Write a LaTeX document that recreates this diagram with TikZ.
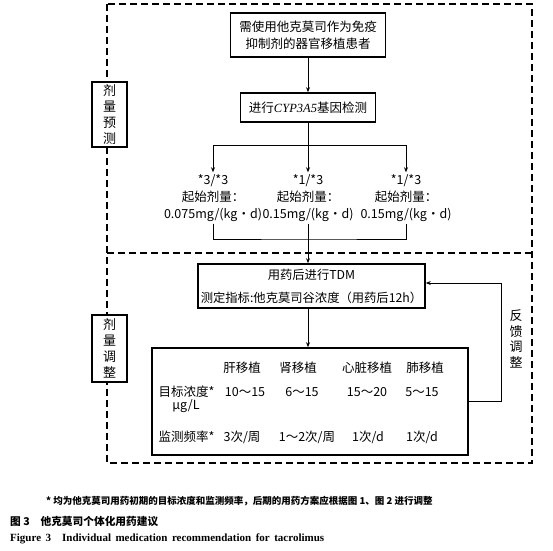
\documentclass[tikz,border=0pt]{standalone}
\usepackage{fontspec}
\setmainfont{Liberation Serif}
\newfontfamily\cjk{Noto Sans CJK SC}
\usetikzlibrary{arrows.meta,positioning}

\begin{document}
\begin{tikzpicture}[
  x=1pt, y=-1pt,
  font=\cjk\fontsize{12.5}{17}\selectfont,
  box/.style={
    draw,
    line width=1.6pt,
    align=center,
    inner sep=2pt,
  },
  flow/.style={-{Stealth[length=5pt,width=4pt]}, line width=0.9pt},
  joint/.style={line width=0.9pt},
  dashframe/.style={line width=1.6pt, dash pattern=on 7pt off 4pt},
  sidetag/.style={box, fill=white, minimum width=35pt, font=\cjk\fontsize{13}{16}\selectfont},
  dosetext/.style={align=center, inner sep=2pt},
  cell/.style={inner sep=0pt, anchor=center},
  caption/.style={anchor=west, inner sep=0pt},
]
\useasboundingbox (0,0) rectangle (553,550);

% dashed frame with divider
\draw[dashframe] (107,4) rectangle (532,463);
\draw[dashframe] (107,253) -- (532,253);

\node[sidetag, minimum height=65pt] (tag_predict) at (109.5,114.5) {剂\\量\\预\\测};
\node[sidetag, minimum height=67pt] (tag_adjust) at (109.5,348.5) {剂\\量\\调\\整};
\node[align=center, inner sep=0pt, font=\cjk\fontsize{13}{15.5}\selectfont] (tag_feedback) at (516,339) {反\\馈\\调\\整};

% dose prediction
\node[box, minimum width=155pt, minimum height=44pt] (box_patient) at (308,35) {需使用他克莫司作为免疫\\抑制剂的器官移植患者};
\node[box, minimum width=135pt, minimum height=29pt] (box_gene) at (308,107.5) {进行{\rmfamily\itshape CYP3A5}基因检测};

\coordinate (split) at (308,145);
\node[dosetext] (dose_a) at (213,198) {*3/*3\\起始剂量：\\0.075mg/(kg•d)};
\node[dosetext] (dose_b) at (308,198) {*1/*3\\起始剂量：\\0.15mg/(kg•d)};
\node[dosetext] (dose_c) at (406,198) {*1/*3\\起始剂量：\\0.15mg/(kg•d)};

\draw[flow] (box_patient) -- (box_gene);
\draw[joint] (box_gene) -- (split);
\draw[flow] (split) -| (dose_a.north);
\draw[flow] (split) -- (dose_b.north);
\draw[flow] (split) -| (dose_c.north);

\coordinate (merge) at (308,239);
\draw[joint] (dose_a.south) |- (merge) -| (dose_c.south);

% dose adjustment
\node[box, minimum width=227pt, minimum height=44pt, font=\cjk\fontsize{12.3}{23}\selectfont] (box_tdm) at (311.5,286) {用药后进行TDM\\测定指标:他克莫司谷浓度（用药后12h）};
\node[box, minimum width=316pt, minimum height=107pt] (box_table) at (310,401.5) {};

\draw[flow] (dose_b.south) -- (dose_b.south |- box_tdm.north);
\draw[flow] (box_tdm.south -| merge) -- (box_table.north -| merge);

\foreach \name/\x [count=\i] in {肝移植/242, 肾移植/298, 心脏移植/367, 肺移植/425}
  \node[cell] (organ_\i) at (\x,368) {\name};
\node[cell] (row_target) at (186.5,392) {目标浓度*};
\node[cell] (row_unit) at (186,406) {μg/L};
\foreach \val/\x [count=\i] in {10～15/245, 6～15/302, 15～20/367, 5～15/422}
  \node[cell] (target_\i) at (\x,392) {\val};
\node[cell] (row_monitor) at (186.5,437) {监测频率*};
\foreach \val/\x [count=\i] in {{3次/周}/242, {1～2次/周}/307, {1次/d}/368, {1次/d}/422}
  \node[cell] (monitor_\i) at (\x,437) {\val};

\coordinate (fb_turn) at (501,283);
\draw[flow] (box_table.east) -| (fb_turn) -- (box_tdm.east |- fb_turn);

% captions
\node[caption, font=\cjk\bfseries\fontsize{9.5}{11}\selectfont] (note_star) at (46,501) {*\ 均为他克莫司用药初期的目标浓度和监测频率，后期的用药方案应根据图 1、图 2 进行调整};
\node[caption, font=\cjk\bfseries\fontsize{10.7}{13}\selectfont] (cap_cn) at (10,521) {图 3\quad 他克莫司个体化用药建议};
\node[caption, font=\rmfamily\bfseries\fontsize{11}{13}\selectfont] (cap_en) at (10,539) {\spaceskip=4.5pt Figure 3\hspace{11pt}Individual medication recommendation for tacrolimus};

\end{tikzpicture}
\end{document}
